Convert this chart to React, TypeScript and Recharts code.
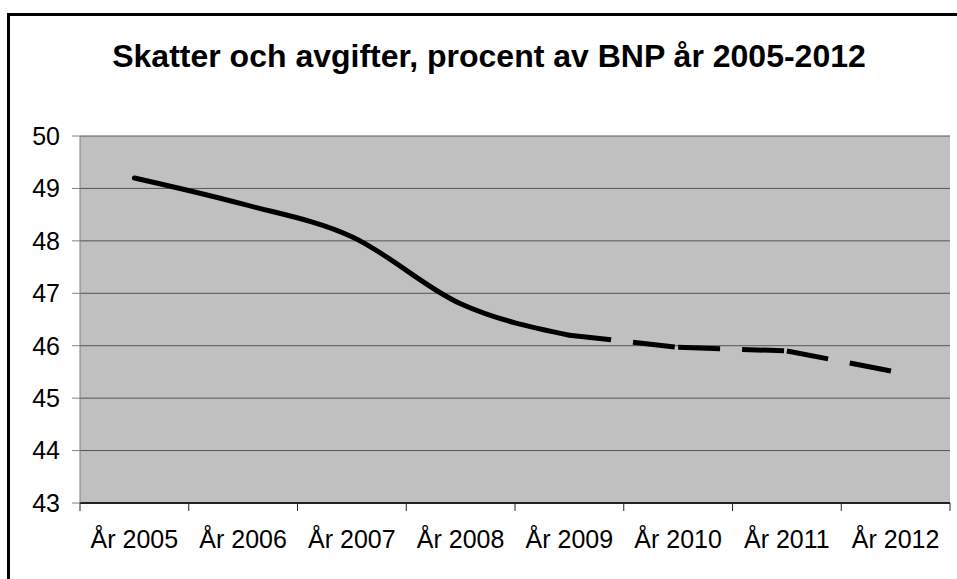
import { CartesianGrid, Line, LineChart, XAxis, YAxis } from "recharts";

// Excel-style palette
const PLOT_BG = "#C0C0C0";
const GRID = "#555555";
const AXIS_GRAY = "#808080";
const AXIS_DARK = "#222222";
const FONT = '"Liberation Sans", Arial, sans-serif';

const YEARS = ["År 2005", "År 2006", "År 2007", "År 2008", "År 2009", "År 2010", "År 2011", "År 2012"];
// utfall (solid) and prognos (dashed), procent av BNP
const ACTUAL = [49.2, 48.7, 48.08, 46.8, 46.2, null, null, null];
const FORECAST = [null, null, null, null, 46.2, 45.97, 45.9, 45.5];
const Y_TICKS = [43, 44, 45, 46, 47, 48, 49, 50];

const TICK_SIZE = 8;
const TICK_MARGIN = 19;

// Excel restarts the dash pattern at every point, so each forecast
// segment gets its own series (seg0, seg1, ...).
const segStarts = FORECAST.map((v, i) =>
  v != null && FORECAST[i + 1] != null ? i : -1
).filter((i) => i >= 0);

const data = YEARS.map((year, i) => {
  const row: Record<string, string | number | null> = {
    year,
    actual: ACTUAL[i],
  };
  segStarts.forEach((s, k) => {
    row[`seg${k}`] = i === s || i === s + 1 ? FORECAST[i] : null;
  });
  return row;
});

const TICK = { fontSize: 25, fill: "#000", fontFamily: FONT } as const;

// year label plus the tick mark on the category boundary (Excel style)
function YearTick(props: any) {
  const { x, y, payload, index } = props;
  const half = payload?.offset ?? 54.375;
  const axisY = y - TICK_MARGIN - TICK_SIZE;
  const marks = [x - half];
  if (index === YEARS.length - 1) marks.push(x + half);
  return (
    <g>
      {marks.map((mx) => (
        <line
          key={mx}
          x1={mx}
          x2={mx}
          y1={axisY}
          y2={axisY + TICK_SIZE}
          stroke={AXIS_DARK}
        />
      ))}
      <text
        x={x}
        y={y}
        dy="0.71em"
        textAnchor="middle"
        fontSize={TICK.fontSize}
        fontFamily={FONT}
        fill="#000"
      >
        {payload.value}
      </text>
    </g>
  );
}

export default function App() {
  return (
    <div style={{ position: "relative", width: 957, height: 579, overflow: "hidden" }}>
      <style>{`body{margin:0}`}</style>
      {/* chart-area frame, runs off the right and bottom edge */}
      <div
        style={{
          position: "absolute",
          left: 7,
          top: 13,
          width: 1000,
          height: 620,
          border: "3px solid #000",
        }}
      />
      <div
        style={{
          position: "absolute",
          left: 0,
          top: 40,
          width: 978,
          textAlign: "center",
          fontFamily: FONT,
          fontWeight: "bold",
          fontSize: 32,
          lineHeight: "32px",
          color: "#000",
        }}
      >
        Skatter och avgifter, procent av BNP år 2005-2012
      </div>
      <div style={{ position: "absolute", left: 0, top: 0 }}>
        <LineChart
          width={957}
          height={579}
          data={data}
          margin={{ top: 136, right: 7, bottom: 36, left: 0 }}
        >
          <CartesianGrid fill={PLOT_BG} stroke={GRID} vertical={false} />
          <XAxis
            dataKey="year"
            scale="band"
            tick={<YearTick />}
            tickSize={TICK_SIZE}
            tickMargin={TICK_MARGIN}
            height={40}
            interval={0}
            axisLine={{ stroke: AXIS_DARK, strokeWidth: 2 }}
            tickLine={false}
          />
          <YAxis
            domain={[43, 50]}
            ticks={Y_TICKS}
            tick={TICK}
            tickSize={8}
            tickMargin={12}
            width={80}
            allowDataOverflow
            axisLine={{ stroke: AXIS_GRAY }}
            tickLine={{ stroke: AXIS_GRAY }}
          />
          <YAxis
            yAxisId="right"
            orientation="right"
            domain={[43, 50]}
            width={0}
            tick={false}
            tickLine={false}
            axisLine={{ stroke: AXIS_GRAY }}
          />
          <Line
            dataKey="actual"
            type="monotone"
            stroke="#000"
            strokeWidth={5}
            strokeLinecap="round"
            dot={false}
            activeDot={false}
            isAnimationActive={false}
          />
          {segStarts.map((_, k) => (
            <Line
              key={k}
              dataKey={`seg${k}`}
              type="linear"
              stroke="#000"
              strokeWidth={5}
              strokeDasharray="42 22"
              strokeLinecap="butt"
              dot={false}
              activeDot={false}
              isAnimationActive={false}
            />
          ))}
        </LineChart>
      </div>
    </div>
  );
}
